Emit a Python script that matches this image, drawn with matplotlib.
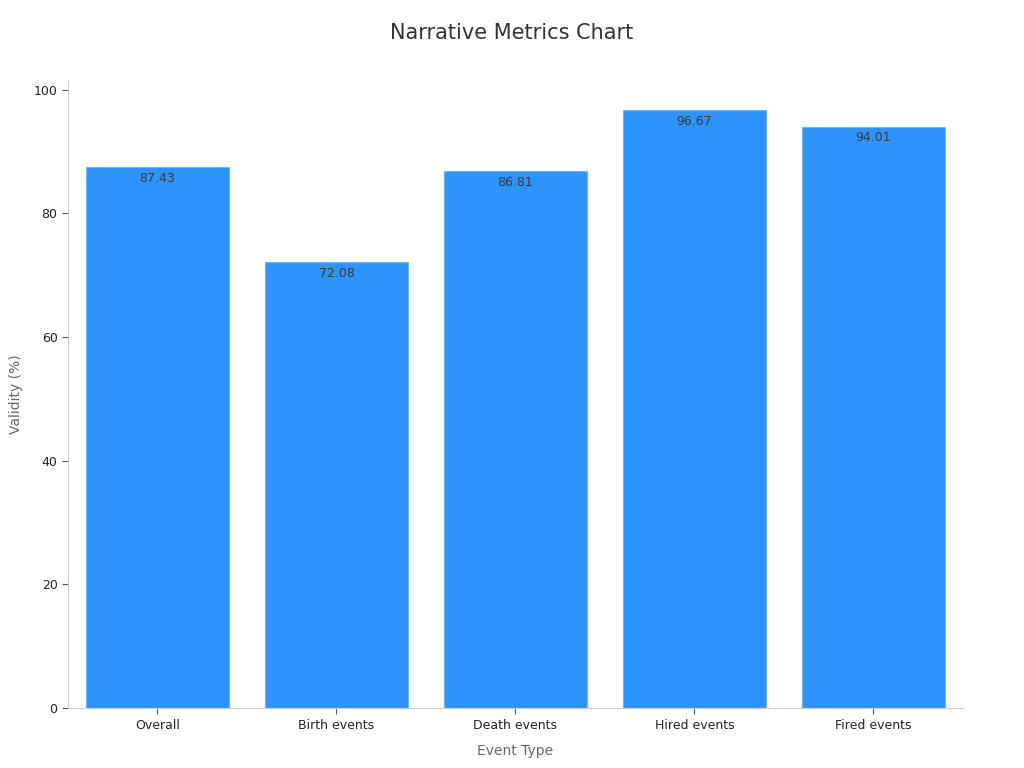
import matplotlib.pyplot as plt

# data
categories = ["Overall", "Birth events", "Death events", "Hired events", "Fired events"]
validity = [87.43, 72.08, 86.81, 96.67, 94.01]
y_ticks = [0, 20, 40, 60, 80, 100]

fig = plt.figure(figsize=(10.24, 7.68), dpi=100)
ax = fig.add_axes([0.0664, 0.078, 0.874, 0.818])

x = range(len(categories))
bars = ax.bar(x, validity, width=0.795, color="#2E93FA", edgecolor="#6BB5F7", linewidth=0.8)

for b, v in zip(bars, validity):
    ax.text(b.get_x() + b.get_width() / 2, v - 0.7, "{:.2f}".format(v),
            ha="center", va="top", fontsize=9, color="#3a3a3a")

ax.set_xlim(-0.5, 4.5)
ax.set_ylim(0, 101.6)
ax.set_xticks(list(x))
ax.set_xticklabels(categories, fontsize=9, color="#222222")
ax.set_yticks(y_ticks)
ax.set_yticklabels([str(t) for t in y_ticks], fontsize=9, color="#222222")

for s in ["top", "right"]:
    ax.spines[s].set_visible(False)
for s in ["left", "bottom"]:
    ax.spines[s].set_color("#cccccc")
    ax.spines[s].set_linewidth(0.8)
ax.tick_params(axis="both", color="#555555", length=4, width=0.8)

ax.set_xlabel("Event Type", fontsize=10, color="#666666", labelpad=9)
ax.set_ylabel("Validity (%)", fontsize=10, color="#666666", labelpad=8)

fig.suptitle("Narrative Metrics Chart", fontsize=15, color="#333333", y=0.97)

fig.savefig("out.png", dpi=100)
